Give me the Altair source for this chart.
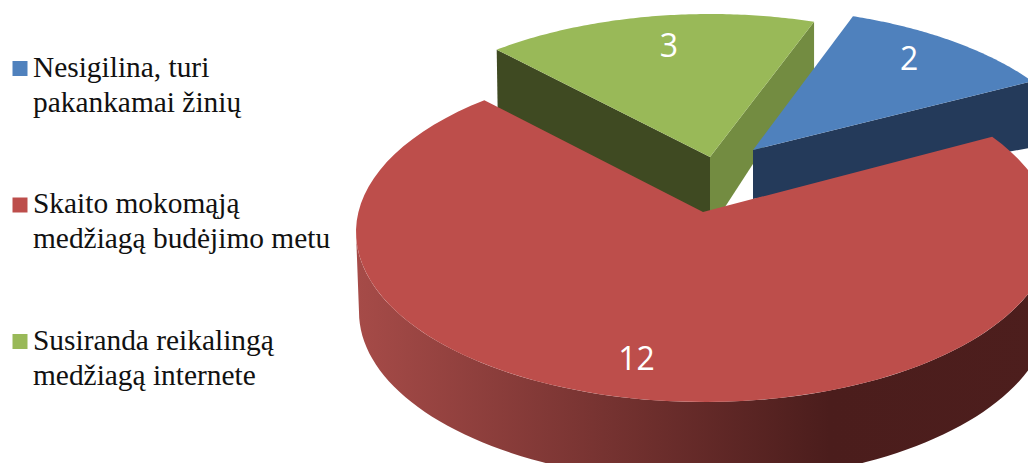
import math
import altair as alt

# --- data ---
CATEGORIES = ["Nesigilina, turi\npakankamai žinių",
              "Skaito mokomąją\nmedžiagą budėjimo metu",
              "Susiranda reikalingą\nmedžiagą internete"]
VALUES = [2, 12, 3]
COLORS = ["#4F81BD", "#BD4E4B", "#99B958"]

# --- layout of the drawing (pixels in the picture) ---
W, H = 1036, 471
MARGIN = 8
A, B = 348.0, 170.0
START_T = -72.1  # ellipse parameter where the blue slice begins
DEG_PER_UNIT = [18.7, 22.08]  # foreshortened sweep of blue, red
RED_GAP = 0.6
GREEN_START = -127.8
GREEN_DEG = 18.4
CENTER = [(746, 178), (704, 232), (710, 184)]
APEX = [(753, 150), (703, 212), (710, 157)]
LABEL_SHIFT = [(-3.0, 0.847), (6.3, 0.765), (2.0, 0.826)]
LABEL_DY = 2
RED_DROP, RED_SHRINK = 80, 3


def rim(i, t, a=A, b=B, dy=0):
    cx, cy = CENTER[i]
    r = math.radians(t)
    return (cx + a * math.cos(r), cy + dy + b * math.sin(r))


def arc(i, t0, t1, n=90, **kw):
    return [rim(i, t0 + (t1 - t0) * k / n, **kw) for k in range(n + 1)]


def feature(points, fill):
    ring = [list(p) for p in points]
    ring.append(ring[0])
    return {"type": "Feature", "properties": {"fill": fill},
            "geometry": {"type": "Polygon", "coordinates": [ring]}}


blue_t = (START_T, START_T + VALUES[0] * DEG_PER_UNIT[0])
red_start = blue_t[1] + RED_GAP
red_t = (red_start, red_start + VALUES[1] * DEG_PER_UNIT[1])
green_t = (GREEN_START, GREEN_START + VALUES[2] * GREEN_DEG)
spans = [blue_t, red_t, green_t]


def shift(p, dx, dy):
    return (p[0] + dx, p[1] + dy)


ba, bR = APEX[0], rim(0, blue_t[1])
ga, gL, gR = APEX[2], rim(2, green_t[0]), rim(2, green_t[1])
under = [
    feature([ga, gR, shift(gR, 0, 48), shift(ga, 15, 50), shift(ga, 0, 56)], "#738C41"),
    feature([ga, gL, shift(gL, 1, 64), shift(ga, 0, 60)], "#3F4A22"),
    feature([ga] + arc(2, *green_t), COLORS[2]),
    feature([ba, bR, shift(bR, -4, 67), shift(ba, 0, 49)], "#243A5A"),
    feature([ba] + arc(0, *blue_t), COLORS[0]),
]
red_side = [feature(arc(1, 0, 180) + arc(1, 180, 0, a=A - RED_SHRINK, dy=RED_DROP), "none")]
red_top = [feature([APEX[1]] + arc(1, *red_t), COLORS[1])]

PROJ = dict(type="identity", scale=1, translate=[-MARGIN, -MARGIN])

base_under = alt.Chart(alt.Data(values=under)).mark_geoshape(strokeWidth=0).encode(
    color=alt.Color("properties.fill:N", scale=None)
).project(**PROJ)

side = alt.Chart(alt.Data(values=red_side)).mark_geoshape(
    strokeWidth=0,
    fill=alt.LinearGradient(
        gradient="linear", x1=0, x2=1, y1=0, y2=0,
        stops=[alt.GradientStop(color="#A64B48", offset=0),
               alt.GradientStop(color="#4B1D1C", offset=0.68),
               alt.GradientStop(color="#4D1E1D", offset=1)],
    ),
).project(**PROJ)

top = alt.Chart(alt.Data(values=red_top)).mark_geoshape(strokeWidth=0).encode(
    color=alt.Color("properties.fill:N", scale=None)
).project(**PROJ)

# value labels
rows = []
for i, v in enumerate(VALUES):
    off, r = LABEL_SHIFT[i]
    t = (spans[i][0] + spans[i][1]) / 2 + off
    x, y = rim(i, t, a=A * r, b=B * r)
    rows.append({"label": str(v), "px": x - MARGIN, "py": y - MARGIN + LABEL_DY})
labels = alt.Chart(alt.Data(values=rows)).mark_text(
    color="white", font="Open Sans", fontSize=32, align="center", baseline="middle"
).encode(x=alt.X("px:Q", scale=None, axis=None), y=alt.Y("py:Q", scale=None, axis=None),
         text="label:N")

# legend
LEG_X, LEG_Y, LEG_STEP = 20, 68.5, 136.5
LEG_TEXT_X = 33
leg = [{"name": c, "fill": f,
        "sx": LEG_X - MARGIN, "sy": LEG_Y + i * LEG_STEP - MARGIN,
        "ty": LEG_Y + i * LEG_STEP - MARGIN - 15,
        "tx": LEG_TEXT_X - MARGIN}
       for i, (c, f) in enumerate(zip(CATEGORIES, COLORS))]
squares = alt.Chart(alt.Data(values=leg)).mark_square(size=225, opacity=1).encode(
    x=alt.X("sx:Q", scale=None, axis=None), y=alt.Y("sy:Q", scale=None, axis=None),
    color=alt.Color("fill:N", scale=None))
texts = alt.Chart(alt.Data(values=leg)).mark_text(
    font="Liberation Serif", fontSize=29.4, align="left", baseline="top",
    lineBreak="\n", lineHeight=35, color="#111111"
).encode(x=alt.X("tx:Q", scale=None, axis=None), y=alt.Y("ty:Q", scale=None, axis=None),
         text="name:N")

chart = alt.layer(base_under, side, top, labels, squares, texts).properties(
    width=W - 2 * MARGIN, height=H - 2 * MARGIN, padding=0, autosize="none", background="white"
).configure_view(stroke=None)

chart.save("out.html", embed_options={"renderer": "svg", "actions": False})
